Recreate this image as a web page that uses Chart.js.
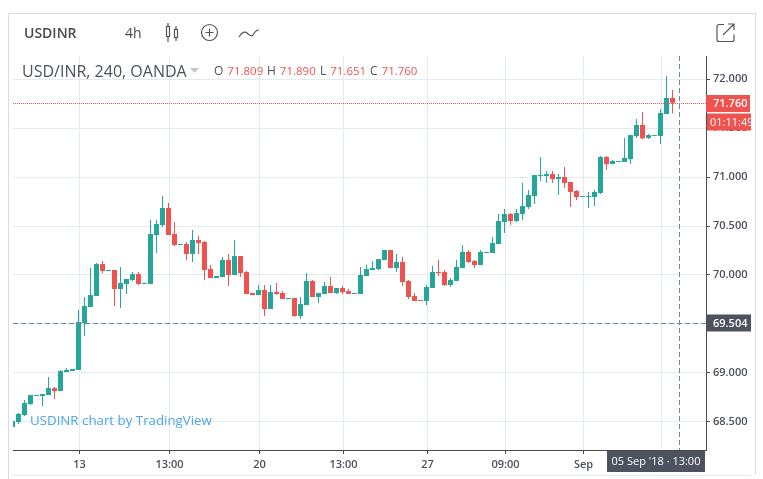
<!DOCTYPE html>
<html>
<head>
<meta charset="utf-8">
<title>USDINR</title>
<script src="https://cdn.jsdelivr.net/npm/chart.js@4/dist/chart.umd.min.js"></script>
<style>
  html, body { margin: 0; padding: 0; background: #fff; }
  body { width: 763px; height: 479px; position: relative; overflow: hidden; font-family: "Open Sans", sans-serif; }
  canvas { position: absolute; left: 0; top: 0; }
  .frame { position: absolute; background: #dcdcdc; }
  .txt { position: absolute; white-space: nowrap; line-height: 16px; }
  .hd { color: #4a4a4a; font-size: 14px; }
  .lg { font-size: 11.5px; color: #ef5350; }
  .lg b { font-weight: 400; color: #4c525e; margin-right: 1px; font-size: 12px; }
  svg { position: absolute; fill: none; stroke: #555; stroke-width: 1.2; }
</style>
</head>
<body>
<canvas id="chart" width="763" height="479"></canvas>

<div class="frame" style="left:8px;top:13px;width:747px;height:1px"></div>
<div class="frame" style="left:8px;top:13px;width:1px;height:466px"></div>
<div class="frame" style="left:755px;top:13px;width:1px;height:461px"></div>
<div class="frame" style="left:13px;top:475px;width:738px;height:1px;background:#e4e8ec"></div>

<div class="txt hd" style="left:24px;top:25px;font-weight:600">USDINR</div>
<div class="txt hd" style="left:125px;top:25px">4h</div>
<svg style="left:163px;top:22px" width="18" height="22" viewBox="0 0 18 22">
  <rect x="3.5" y="4.5" width="3" height="10"/><path d="M5 1v3M5 15v5"/>
  <rect x="11.5" y="7.5" width="3" height="8"/><path d="M13 4v3M13 16v3"/>
</svg>
<svg style="left:200px;top:23px" width="19" height="19" viewBox="0 0 19 19">
  <circle cx="9.5" cy="9.5" r="8"/><path d="M9.5 5.5v8M5.5 9.5h8"/>
</svg>
<svg style="left:238px;top:26px" width="22" height="14" viewBox="0 0 22 14">
  <path d="M1 11c3-5 6-6 8-4s5 4 6 2 3-5 6-5"/>
</svg>
<svg style="left:715px;top:22px" width="21" height="21" viewBox="0 0 21 21">
  <path d="M9 2.5H4a2 2 0 0 0-2 2v13a2 2 0 0 0 2 2h13a2 2 0 0 0 2-2v-5M8 13L18.5 2.5M13 2h6v6"/>
</svg>

<div class="txt" style="left:22px;top:63px;font-size:16px;color:#4c525e">USD/INR, 240, OANDA</div>
<svg style="left:190px;top:68px;stroke:none;fill:#c4c8cc" width="9" height="6" viewBox="0 0 9 6"><path d="M0 0h9L4.5 5z"/></svg>
<div class="txt lg" style="left:214px;top:63px"><b>O</b> 71.809</div>
<div class="txt lg" style="left:267px;top:63px"><b>H</b> 71.890</div>
<div class="txt lg" style="left:320px;top:63px"><b>L</b> 71.651</div>
<div class="txt lg" style="left:370px;top:63px"><b>C</b> 71.760</div>
<div class="txt" style="left:30px;top:412px;font-size:13.3px;color:#4ba6ee">USDINR chart by TradingView</div>

<script>
// === Donnees ===
const opens = [68.445,68.496,68.567,68.680,68.762,68.762,68.772,68.843,68.813,69.007,69.017,69.028,69.508,69.672,69.784,70.111,70.040,70.050,69.856,69.907,69.948,70.009,69.907,69.907,70.408,70.510,70.684,70.418,70.306,70.316,70.214,70.357,70.336,70.060,69.968,69.978,70.152,69.999,70.193,70.030,69.815,69.794,69.846,69.651,69.825,69.815,69.753,69.764,69.580,69.692,69.938,69.774,69.805,69.886,69.815,69.866,69.835,69.805,69.805,69.989,70.050,70.060,70.152,70.255,70.070,70.132,69.938,69.784,69.743,69.733,69.866,70.030,70.030,69.897,69.938,70.070,70.234,70.142,70.101,70.224,70.224,70.316,70.541,70.623,70.551,70.623,70.694,70.807,71.011,71.011,71.032,70.980,71.001,70.950,70.858,70.796,70.796,70.796,70.837,71.205,71.134,71.154,71.154,71.185,71.420,71.533,71.400,71.420,71.420,71.645,71.809];
const highs = [68.506,68.588,68.721,68.772,68.772,68.782,68.956,68.854,69.028,69.048,69.038,69.641,69.774,70.070,70.122,70.142,70.050,70.050,70.081,69.958,70.030,70.030,69.917,70.561,70.561,70.807,70.735,70.541,70.316,70.336,70.459,70.398,70.347,70.101,69.989,70.183,70.214,70.357,70.193,70.040,69.815,69.897,69.897,69.897,69.917,69.835,69.764,69.764,69.774,70.019,69.948,69.815,69.927,69.978,69.866,69.886,69.856,69.815,70.081,70.101,70.142,70.162,70.255,70.255,70.214,70.183,69.948,69.815,69.743,69.897,70.091,70.152,70.050,69.968,70.152,70.306,70.255,70.152,70.255,70.234,70.387,70.623,70.674,70.633,70.674,70.940,70.868,71.021,71.205,71.062,71.062,71.032,71.103,70.950,70.868,70.807,70.848,70.868,71.216,71.216,71.175,71.165,71.400,71.430,71.594,71.666,71.441,71.430,71.696,72.034,71.890];
const lows = [68.445,68.475,68.557,68.670,68.762,68.659,68.772,68.731,68.813,69.007,69.017,69.028,69.375,69.672,69.784,70.019,70.040,69.682,69.661,69.805,69.938,69.897,69.907,69.907,70.224,70.490,70.408,70.295,70.306,70.152,70.132,70.214,69.948,69.968,69.968,69.978,69.886,69.999,69.978,69.805,69.794,69.794,69.580,69.651,69.794,69.753,69.753,69.569,69.549,69.692,69.774,69.713,69.805,69.815,69.805,69.805,69.805,69.805,69.805,69.989,70.050,70.050,70.152,70.070,70.030,69.886,69.753,69.733,69.733,69.692,69.866,69.989,69.886,69.876,69.938,70.070,70.122,70.070,70.101,70.224,70.224,70.316,70.428,70.510,70.541,70.561,70.674,70.725,70.960,70.940,70.940,70.817,70.888,70.694,70.766,70.796,70.684,70.704,70.827,71.073,71.134,71.154,71.154,71.134,71.400,71.389,71.389,71.420,71.338,71.645,71.651];
const closes = [68.506,68.578,68.690,68.772,68.772,68.782,68.843,68.813,69.017,69.028,69.038,69.518,69.682,69.794,70.111,70.040,70.050,69.856,69.917,69.958,70.009,69.907,69.917,70.418,70.520,70.684,70.408,70.306,70.316,70.214,70.357,70.326,70.050,69.968,69.989,70.152,69.999,70.193,70.019,69.805,69.794,69.846,69.651,69.825,69.805,69.753,69.764,69.580,69.702,69.938,69.774,69.815,69.886,69.815,69.866,69.825,69.805,69.815,69.999,70.060,70.070,70.162,70.255,70.070,70.132,69.927,69.774,69.733,69.733,69.876,70.030,70.019,69.897,69.948,70.081,70.234,70.132,70.101,70.234,70.234,70.326,70.551,70.623,70.551,70.633,70.704,70.817,71.021,71.021,71.032,70.980,71.001,70.940,70.848,70.796,70.807,70.807,70.848,71.205,71.134,71.165,71.165,71.195,71.430,71.533,71.396,71.430,71.430,71.655,71.809,71.760];

const priceTicks = [68.5, 69, 69.5, 70, 70.5, 71, 71.5, 72];
const timeTickIndex = [11, 26, 41, 55, 69, 82, 95, 108];
const timeTickLabels = ['13', '13:00', '20', '13:00', '27', '09:00', 'Sep', ''];

const lastPrice = 71.760;
const markPrice = 69.504;
const cursorIndex = 111;
const countdown = '01:11:49';
const cursorDate = "05 Sep '18 \u00b7 13:00";

const UP = '#26a69a';
const DOWN = '#ef5350';
const SLATE = '#4c525e';
const GRID = '#e3ebf2';
const FONT = '"Open Sans", sans-serif';

const candleColors = closes.map((c, i) => c >= opens[i] ? UP : DOWN);
const wicks = highs.map((h, i) => ({ x: i, y: [lows[i], h] }));
const bodies = opens.map((o, i) => ({ x: i, y: [Math.min(o, closes[i]), Math.max(o, closes[i])] }));

// === Lignes et etiquettes de prix ===
function tag(ctx, x, y, w, h, bg, text, textX, font, align) {
  ctx.fillStyle = bg;
  ctx.fillRect(x, y, w, h);
  ctx.save();
  ctx.beginPath();
  ctx.rect(x, y, w, h);
  ctx.clip();
  ctx.fillStyle = '#fff';
  ctx.font = font;
  ctx.textAlign = align;
  ctx.textBaseline = 'middle';
  ctx.fillText(text, textX, y + h / 2 + 0.5);
  ctx.restore();
}

const overlay = {
  id: 'overlay',
  afterDraw(chart) {
    const { ctx, chartArea: a, scales } = chart;
    const yLast = Math.round(scales.y.getPixelForValue(lastPrice)) + 0.5;
    const yMark = Math.round(scales.y.getPixelForValue(markPrice)) + 0.5;
    const xCur = Math.round(scales.x.getPixelForValue(cursorIndex)) + 0.5;

    ctx.save();
    ctx.lineWidth = 1;
    ctx.strokeStyle = DOWN;
    ctx.setLineDash([1, 1]);
    ctx.beginPath();
    ctx.moveTo(a.left, yLast);
    ctx.lineTo(a.right, yLast);
    ctx.stroke();

    ctx.strokeStyle = '#758696';
    ctx.setLineDash([5, 3]);
    ctx.beginPath();
    ctx.moveTo(a.left, yMark);
    ctx.lineTo(a.right, yMark);
    ctx.moveTo(xCur, a.top);
    ctx.lineTo(xCur, a.bottom);
    ctx.stroke();
    ctx.restore();

    tag(ctx, 706, yLast - 8.5, 44, 17, DOWN, lastPrice.toFixed(3), 713, '600 11px ' + FONT, 'left');
    tag(ctx, 707, yLast + 10, 44, 17, DOWN, countdown, 710, '11px ' + FONT, 'left');
    tag(ctx, 706, yMark - 9, 45, 17, SLATE, markPrice.toFixed(3), 713, '600 11px ' + FONT, 'left');
    tag(ctx, 607, 451, 98, 21, SLATE, cursorDate, 656, '11px ' + FONT, 'center');
  }
};

// === Graphique ===
new Chart(document.getElementById('chart'), {
  type: 'bar',
  data: {
    datasets: [
      { data: wicks, backgroundColor: candleColors, barThickness: 1, grouped: false, inflateAmount: 0, borderWidth: 0 },
      { data: bodies, backgroundColor: candleColors, barThickness: 5, grouped: false, inflateAmount: 0, borderWidth: 0 }
    ]
  },
  options: {
    responsive: false,
    animation: false,
    layout: { padding: { left: 13, top: 56, right: 0, bottom: 0 } },
    plugins: { legend: { display: false }, tooltip: { enabled: false } },
    scales: {
      x: {
        type: 'linear',
        offset: false,
        min: 0.083,
        max: 115.58,
        afterFit(s) { s.height = 29; },
        afterBuildTicks(s) { s.ticks = timeTickIndex.map(v => ({ value: v + 1 / 6 })); },
        grid: { offset: false, color: GRID, tickColor: '#4a4a4a', tickLength: 4 },
        border: { color: '#4a4a4a' },
        ticks: {
          autoSkip: false,
          maxRotation: 0,
          padding: 4,
          color: '#4a4f5a',
          font: { family: FONT, size: 11, weight: '600' },
          callback: (v, i) => timeTickLabels[i]
        }
      },
      y: {
        position: 'right',
        min: 68.21,
        max: 72.238,
        afterFit(s) { s.width = 57; },
        afterBuildTicks(s) { s.ticks = priceTicks.map(v => ({ value: v })); },
        grid: { color: GRID, tickColor: '#4a4a4a', tickLength: 4 },
        border: { color: '#4a4a4a' },
        ticks: {
          padding: 3,
          color: '#4a4f5a',
          font: { family: FONT, size: 11, weight: '600' },
          callback: v => v.toFixed(3)
        }
      }
    }
  },
  plugins: [overlay]
});
</script>
</body>
</html>
